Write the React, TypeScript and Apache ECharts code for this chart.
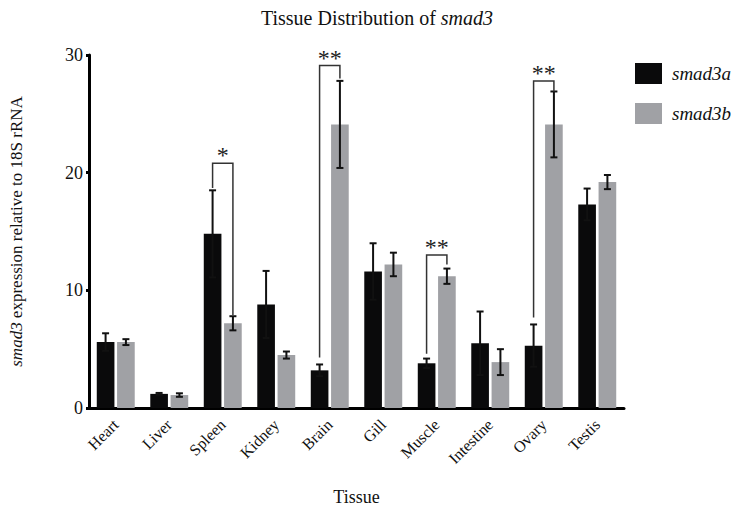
import React, { useEffect, useRef } from "react";
import * as echarts from "echarts";

const categories = ["Heart", "Liver", "Spleen", "Kidney", "Brain", "Gill", "Muscle", "Intestine", "Ovary", "Testis"];
const smad3a = [5.6, 1.2, 14.8, 8.8, 3.2, 11.6, 3.8, 5.5, 5.3, 17.3];
const smad3aErr = [0.75, 0.08, 3.7, 2.85, 0.5, 2.4, 0.4, 2.7, 1.8, 1.35];
const smad3b = [5.6, 1.1, 7.2, 4.5, 24.1, 12.2, 11.2, 3.9, 24.1, 19.2];
const smad3bErr = [0.25, 0.15, 0.6, 0.3, 3.7, 1.0, 0.65, 1.1, 2.8, 0.6];
const yTicks = [0, 10, 20, 30];

// significance brackets: category index, bracket height, left leg end, right leg end, label
const sigIndex = [2, 4, 6, 8];
const sigLine = [20.8, 29.1, 13.0, 27.8];
const sigLeftEnd = [18.7, 4.3, 4.6, 7.7];
const sigRightEnd = [7.9, 28.0, 12.2, 26.9];
const sigLabel = ["*", "**", "**", "**"];

const FONT = "'Liberation Serif', 'Times New Roman', serif";
const BLACK = "#0a0a0b";
const GRAY = "#a0a1a5";
const OFFSET = 0.19;

function errorRender(sign: number) {
  return (params: any, api: any) => {
    const idx = api.value(0);
    const v = api.value(1);
    const e = api.value(2);
    const band = api.size([1, 0])[0];
    const x = api.coord([idx, v])[0] + sign * band * OFFSET;
    const yTop = api.coord([idx, v + e])[1];
    const yBot = api.coord([idx, v - e])[1];
    const cap = 3.5;
    const style = { stroke: "#111", lineWidth: 2 };
    return {
      type: "group",
      children: [
        { type: "line", shape: { x1: x, y1: yTop, x2: x, y2: yBot }, style },
        { type: "line", shape: { x1: x - cap, y1: yTop, x2: x + cap, y2: yTop }, style },
        { type: "line", shape: { x1: x - cap, y1: yBot, x2: x + cap, y2: yBot }, style },
      ],
    };
  };
}

function bracketRender(params: any, api: any) {
  const idx = api.value(0);
  const band = api.size([1, 0])[0];
  const c = api.coord([idx, 0])[0];
  const xL = c - band * OFFSET;
  const xR = c + band * OFFSET;
  const yLine = api.coord([idx, api.value(1)])[1];
  const yL = api.coord([idx, api.value(2)])[1];
  const yR = api.coord([idx, api.value(3)])[1];
  const label = sigLabel[params.dataIndex];
  const stars = label.split("");
  const spacing = 12;
  const cx = (xL + xR) / 2;
  const starEls = stars.map((s, i) => ({
    type: "text",
    x: cx + (i - (stars.length - 1) / 2) * spacing,
    y: yLine + 4,
    style: {
      text: s,
      fontFamily: FONT,
      fontSize: 24,
      fill: "#222",
      align: "center",
      verticalAlign: "bottom",
    },
  }));
  return {
    type: "group",
    children: [
      {
        type: "polyline",
        shape: { points: [[xL, yL], [xL, yLine], [xR, yLine], [xR, yR]] },
        style: { stroke: "#333", lineWidth: 1.5, fill: "none" },
      },
      ...starEls,
    ],
  };
}

export default function App() {
  const ref = useRef<HTMLDivElement>(null);
  useEffect(() => {
    if (!ref.current) return;
    const chart = echarts.init(ref.current, null, { renderer: "svg" });
    const option: any = {
      animation: false,
      backgroundColor: "#ffffff",
      title: {
        text: "{a|Tissue Distribution of }{b|smad3}",
        left: 372,
        textAlign: "center",
        top: 3,
        textStyle: {
          fontWeight: "normal",
          rich: {
            a: { fontFamily: FONT, fontSize: 20, color: "#111", fontWeight: "normal" },
            b: { fontFamily: FONT, fontSize: 20, color: "#111", fontStyle: "italic", fontWeight: "normal" },
          },
        },
      },
      legend: {
        data: ["smad3a", "smad3b"],
        orient: "vertical",
        left: 630,
        top: 58,
        itemWidth: 27,
        itemHeight: 21,
        itemGap: 19,
        icon: "rect",
        textStyle: { fontFamily: FONT, fontSize: 19, fontStyle: "italic", color: "#111", padding: [0, 0, 0, 5] },
      },
      grid: { left: 84, right: 118, top: 55, bottom: 96, containLabel: false },
      xAxis: {
        type: "category",
        data: categories,
        name: "Tissue",
        nameLocation: "middle",
        nameGap: 80,
        nameTextStyle: { fontFamily: FONT, fontSize: 18, color: "#111" },
        axisLine: { lineStyle: { color: "#000", width: 3 } },
        axisTick: { alignWithLabel: true, length: 5, lineStyle: { color: "#000", width: 3 } },
        axisLabel: {
          rotate: 45,
          fontFamily: FONT,
          fontSize: 16,
          color: "#111",
          margin: 14,
        },
      },
      yAxis: {
        type: "value",
        min: 0,
        max: 30,
        interval: 10,
        name: "{b|smad3}{a| expression relative to 18S rRNA}",
        nameLocation: "middle",
        nameGap: 64,
        nameRotate: 90,
        nameTextStyle: {
          rich: {
            a: { fontFamily: FONT, fontSize: 17, color: "#111" },
            b: { fontFamily: FONT, fontSize: 17, color: "#111", fontStyle: "italic" },
          },
        },
        axisLine: { show: true, lineStyle: { color: "#000", width: 3 } },
        axisTick: { show: true, length: 3, lineStyle: { color: "#000", width: 3 } },
        splitLine: { show: false },
        axisLabel: {
          fontFamily: FONT,
          fontSize: 18,
          color: "#111",
          margin: 6,
          formatter: (v: number) => (yTicks.includes(v) ? String(v) : ""),
        },
      },
      series: [
        {
          name: "smad3a",
          type: "bar",
          data: smad3a,
          barWidth: "33%",
          barGap: "15%",
          itemStyle: { color: BLACK },
        },
        {
          name: "smad3b",
          type: "bar",
          data: smad3b,
          barWidth: "33%",
          barGap: "15%",
          itemStyle: { color: GRAY },
        },
        {
          name: "errA",
          type: "custom",
          renderItem: errorRender(-1),
          data: smad3a.map((v, i) => [i, v, smad3aErr[i]]),
          encode: { x: 0, y: 1 },
          z: 5,
          clip: false,
        },
        {
          name: "errB",
          type: "custom",
          renderItem: errorRender(1),
          data: smad3b.map((v, i) => [i, v, smad3bErr[i]]),
          encode: { x: 0, y: 1 },
          z: 5,
          clip: false,
        },
        {
          name: "sig",
          type: "custom",
          renderItem: bracketRender,
          data: sigIndex.map((c, i) => [c, sigLine[i], sigLeftEnd[i], sigRightEnd[i]]),
          encode: { x: 0, y: 1 },
          z: 6,
          clip: false,
        },
      ],
    };
    chart.setOption(option);
    return () => chart.dispose();
  }, []);
  return <div ref={ref} style={{ width: 742, height: 511, margin: -8 }} />;
}
